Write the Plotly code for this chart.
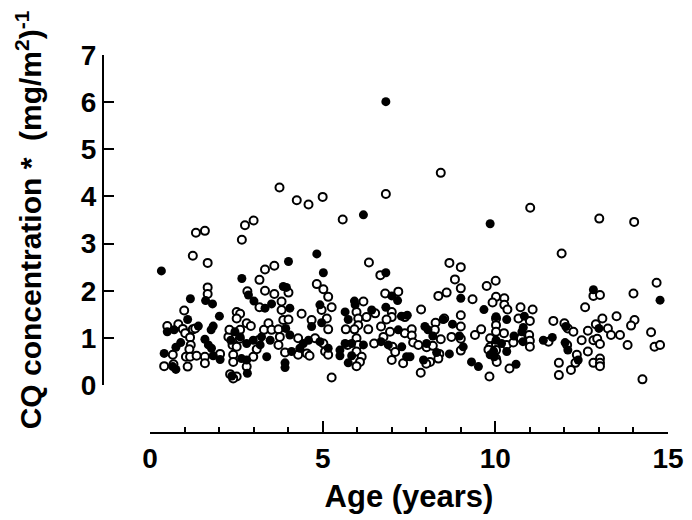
import plotly.graph_objects as go

# Open circles (age in years, CQ concentration)
open_age = [3.75, 4.25, 4.59, 5.0, 6.83, 5.58, 2.75, 3.0, 1.33, 1.59, 8.42, 11.01, 13.01, 14.02,
            2.66, 1.24, 1.67, 3.33, 3.6, 3.17, 3.33, 3.6, 1.67, 1.67, 2.82, 3.17, 0.99, 2.51, 2.61, 2.51,
            2.8, 2.92, 0.5, 0.82, 0.95, 1.02, 1.24, 1.31, 1.16, 1.18, 1.14, 0.66, 0.41, 0.68, 1.09, 1.04,
            1.16, 1.35, 1.59, 1.59, 2.03, 2.27, 2.39, 2.51, 2.41, 2.41, 2.8, 2.32, 2.51, 2.41, 2.3, 2.61,
            2.6, 3.14, 3.09, 2.99, 3.3, 3.43, 3.52,
            4.83, 5.02, 5.16, 4.01, 3.81, 3.81, 4.39, 4.68, 4.97, 5.26, 5.12, 5.16, 3.86, 4.01, 3.72, 3.76,
            4.29, 4.78, 5.02, 5.07, 5.16, 4.29, 4.54, 4.62, 3.91, 3.72, 5.26, 6.34, 6.67, 5.98, 6.03, 6.03,
            6.27, 6.52, 6.32, 5.67, 5.92, 5.72, 5.98, 6.03, 5.98, 6.13, 6.08, 5.98, 6.49, 6.76, 6.81, 7.19,
            7.0, 7.0, 6.85, 7.38, 6.69, 6.95, 7.38, 7.02, 7.1, 7.0, 7.33, 6.18,
            8.67, 9.0, 8.83, 9.0, 8.59, 8.35, 9.34, 9.75, 10.01, 10.02, 9.92, 10.26, 10.26, 10.35, 7.85, 9.0,
            8.52, 8.27, 8.25, 7.58, 7.58, 7.62, 7.77, 8.01, 8.19, 8.42, 8.73, 9.0, 9.0, 9.0, 8.38, 8.35,
            8.11, 8.0, 7.84, 9.41, 9.59, 9.83, 9.85, 9.85, 9.8, 10.02, 10.02, 10.02, 10.02, 10.02, 10.02,
            10.04, 10.25, 10.33, 10.52, 10.41, 10.73, 10.67, 11.08, 11.0, 10.98, 10.74, 11.0, 11.0,
            11.92, 14.67, 12.84, 13.03, 14.0, 12.6, 11.68, 12.0, 12.1, 12.26, 12.68, 12.91, 13.1, 13.26,
            13.35, 13.51, 13.61, 14.03, 13.93, 14.51, 14.61, 14.77, 13.83, 12.5, 12.84, 12.95, 13.03, 11.54,
            12.08, 12.36, 12.68, 12.32, 11.84, 11.84, 12.19, 12.84, 13.03, 13.03, 13.03, 14.26]
open_cq = [4.19, 3.92, 3.83, 3.99, 4.05, 3.51, 3.39, 3.49, 3.23, 3.27, 4.50, 3.76, 3.53, 3.46,
           3.08, 2.74, 2.59, 2.45, 2.53, 2.23, 2.0, 1.93, 2.07, 1.93, 1.99, 1.65, 1.58, 1.55, 1.51, 1.41,
           1.31, 1.25, 1.25, 1.29, 1.19, 1.10, 1.18, 1.20, 1.01, 0.85, 0.76, 0.64, 0.40, 0.44, 0.39, 0.60,
           0.60, 0.62, 0.60, 0.46, 0.66, 1.02, 0.85, 0.81, 0.64, 0.49, 0.39, 0.23, 0.18, 0.14, 1.17, 1.17,
           0.98, 0.95, 0.76, 0.60, 1.17, 1.31, 1.17,
           2.14, 2.03, 1.87, 1.96, 1.77, 1.59, 1.51, 1.38, 1.59, 1.65, 1.41, 1.18, 1.38, 1.39, 1.18, 1.02,
           0.99, 0.99, 0.88, 0.71, 0.64, 0.64, 0.67, 0.62, 0.69, 0.85, 0.16, 2.60, 2.33, 1.55, 1.41, 1.27,
           1.44, 1.52, 1.18, 1.18, 1.18, 0.85, 0.99, 0.85, 0.71, 0.60, 0.49, 0.40, 0.88, 1.02, 1.94, 1.98,
           1.55, 1.44, 1.39, 1.44, 1.24, 1.13, 1.10, 0.81, 0.70, 0.53, 0.46, 1.77,
           2.59, 2.50, 2.24, 2.05, 1.96, 1.89, 1.82, 2.10, 2.21, 1.87, 1.75, 1.84, 1.70, 1.60, 1.60, 1.48,
           1.41, 1.32, 1.17, 1.18, 1.05, 0.90, 0.85, 0.80, 0.83, 0.97, 1.02, 0.98, 1.24, 0.73, 0.66, 0.56,
           0.49, 0.45, 0.26, 1.06, 1.18, 0.18, 0.99, 0.81, 0.75, 1.41, 1.27, 1.13, 0.85, 0.74, 0.56,
           0.49, 1.10, 0.85, 0.90, 0.35, 1.65, 1.41, 1.60, 1.36, 1.06, 0.99, 0.94, 0.81,
           2.79, 2.17, 1.89, 1.91, 1.94, 1.65, 1.36, 1.31, 1.20, 1.13, 1.15, 1.29, 1.41, 1.20,
           1.06, 1.46, 1.06, 1.38, 1.26, 1.12, 0.81, 0.85, 0.85, 0.95, 0.95, 0.98, 0.87, 0.92,
           0.85, 0.64, 0.71, 0.47, 0.47, 0.21, 0.32, 0.47, 0.56, 0.47, 0.40, 0.12]

# Filled circles
filled_age = [6.83, 6.18, 9.85, 0.33, 2.66, 1.17, 1.61, 1.81, 2.85, 3.01, 3.33, 3.52, 2.01, 1.09, 0.5,
              0.7, 1.40, 1.77, 1.83, 1.59, 1.69, 1.78, 0.89, 0.75, 0.41, 0.75, 0.66, 1.83, 2.03, 2.34,
              2.65, 2.8, 2.82, 2.37, 2.46, 2.61, 2.8, 2.99, 3.19, 3.38, 3.23, 3.48,
              4.83, 4.01, 5.02, 6.83, 3.86, 3.95, 4.05, 4.92, 4.97, 4.68, 3.93, 4.05, 4.44, 4.59, 4.92,
              5.16, 4.34, 3.91, 3.91, 4.10, 5.65, 5.92, 5.94, 5.74, 6.42, 5.65, 5.50, 5.84, 6.18, 5.84,
              5.74, 5.50, 6.69, 7.0, 7.17, 6.83, 7.28, 7.45, 7.19, 6.90, 7.29, 7.43,
              9.0, 9.67, 8.49, 8.76, 7.96, 8.05, 8.01, 8.19, 8.96, 9.07, 8.67, 8.30, 7.92, 7.53, 9.31,
              9.51, 9.85, 10.02, 10.02, 9.95, 9.97, 10.33, 10.18, 10.33, 10.54, 10.6, 10.84, 10.81, 10.77,
              10.8, 11.39,
              14.77, 12.84, 12.04, 13.0, 11.65, 12.02, 12.10, 12.4]
filled_cq = [6.01, 3.61, 3.42, 2.42, 2.26, 1.83, 1.79, 1.72, 1.91, 1.78, 1.63, 1.72, 1.46, 1.39, 1.13,
             1.17, 1.25, 1.17, 1.25, 0.97, 0.85, 0.78, 0.90, 0.80, 0.67, 0.33, 0.39, 0.62, 0.54, 0.95,
             0.56, 0.53, 0.25, 0.19, 1.13, 1.02, 0.88, 0.95, 0.85, 0.60, 1.02, 0.95,
             2.78, 2.62, 2.38, 2.38, 2.09, 2.07, 1.63, 1.70, 1.32, 1.24, 1.20, 1.06, 0.88, 0.95, 0.92,
             0.78, 0.78, 0.47, 0.37, 0.71, 1.55, 1.78, 1.70, 1.39, 1.59, 0.88, 0.74, 0.88, 0.85, 0.62,
             0.47, 0.62, 0.92, 1.89, 1.79, 1.65, 1.46, 1.48, 1.17, 0.85, 0.81, 0.60,
             1.84, 1.60, 1.39, 1.29, 1.24, 1.17, 0.88, 1.04, 1.04, 0.81, 0.66, 0.69, 0.53, 0.60, 0.49,
             0.39, 0.64, 1.45, 0.95, 0.72, 0.60, 1.39, 0.88, 0.71, 1.04, 0.44, 1.46, 1.22, 1.13,
             0.92, 0.95,
             1.80, 2.02, 1.24, 1.20, 1.01, 0.90, 0.74, 0.53]

FONT = "Liberation Sans, Arial, Helvetica, sans-serif"

fig = go.Figure()
fig.add_trace(go.Scatter(
    x=open_age, y=open_cq, mode="markers", name="open",
    marker=dict(symbol="circle", size=8, color="white",
                line=dict(color="black", width=2)),
    cliponaxis=False, showlegend=False))
fig.add_trace(go.Scatter(
    x=filled_age, y=filled_cq, mode="markers", name="filled",
    marker=dict(symbol="circle", size=9, color="black",
                line=dict(color="black", width=0)),
    cliponaxis=False, showlegend=False))
# empty traces so the offset x axes (anchored on a hidden y2 strip) get drawn
fig.add_trace(go.Scatter(x=[], y=[], xaxis="x", yaxis="y2", showlegend=False, hoverinfo="skip"))
fig.add_trace(go.Scatter(x=[], y=[], xaxis="x2", yaxis="y2", showlegend=False, hoverinfo="skip"))
fig.add_trace(go.Scatter(x=[], y=[], xaxis="x3", yaxis="y2", showlegend=False, hoverinfo="skip"))

L, R, T, B = 103, 24, 55, 88
W, H = 692, 520
pw = W - L - R
ph = H - T - B
xdom = [(150 - L) / pw, 1]

fig.update_layout(
    width=W, height=H,
    margin=dict(l=L, r=R, t=T, b=B, pad=0, autoexpand=False),
    paper_bgcolor="white", plot_bgcolor="white",
    font=dict(family=FONT, color="black"),
    xaxis=dict(
        domain=xdom, range=[0, 15], anchor="y2",
        automargin=False,
        showline=True, linecolor="black", linewidth=2,
        ticks="", tickmode="linear", tick0=0, dtick=5,
        showgrid=False, zeroline=False,
        tickfont=dict(size=28, family=FONT, weight="bold"),
        title=dict(text="<b>Age (years)</b>", font=dict(size=31, family=FONT), standoff=13),
    ),
    # minor ticks every year
    xaxis2=dict(
        domain=xdom, range=[0, 15], anchor="y2", overlaying="x",
        automargin=False, showline=False,
        ticks="inside", ticklen=5, tickwidth=2, tickcolor="black",
        tickmode="linear", tick0=0, dtick=1, showticklabels=False,
        showgrid=False, zeroline=False,
    ),
    # major ticks every 5 years
    xaxis3=dict(
        domain=xdom, range=[0, 15], anchor="y2", overlaying="x",
        automargin=False, showline=False,
        ticks="inside", ticklen=11, tickwidth=2, tickcolor="black",
        tickmode="linear", tick0=0, dtick=5, showticklabels=False,
        showgrid=False, zeroline=False,
    ),
    yaxis2=dict(
        domain=[0, 0.03], range=[0, 1], anchor="x",
        automargin=False, showline=False, showticklabels=False, ticks="",
        showgrid=False, zeroline=False, fixedrange=True,
    ),
    yaxis=dict(
        domain=[(432 - 385) / ph, 1], range=[0, 7], anchor="free", position=0,
        automargin=False,
        showline=True, linecolor="black", linewidth=2,
        ticks="inside", ticklen=10, tickwidth=2, tickcolor="black",
        tickmode="linear", tick0=0, dtick=1,
        showgrid=False, zeroline=False,
        tickfont=dict(size=28, family=FONT, weight="bold"),
        title=dict(text="<b>CQ concentration *  (mg/m<sup>2</sup>)<sup>-1</sup></b>",
                   font=dict(size=30, family=FONT), standoff=29),
    ),
)

fig.write_html("out.html", config={"displayModeBar": False})
# remove the default page margin so the figure sits at the window's top-left corner
with open("out.html", encoding="utf-8") as f:
    html = f.read()
html = html.replace("<head>", "<head><style>html,body{margin:0;padding:0;overflow:hidden;}</style>", 1)
with open("out.html", "w", encoding="utf-8") as f:
    f.write(html)
